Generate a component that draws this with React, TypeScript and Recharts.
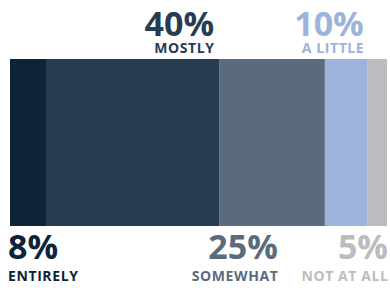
import React from 'react';
import { BarChart, Bar, XAxis, YAxis, LabelList } from 'recharts';

const categories = ['ENTIRELY', 'MOSTLY', 'SOMEWHAT', 'A LITTLE', 'NOT AT ALL'];
const values = [8.4, 40.4, 24.7, 10, 4.5];
const valueLabels = ['8%', '40%', '25%', '10%', '5%'];
const colors = ['#0c2338', '#273c53', '#5b6b7f', '#9db3da', '#bcbcc0'];

const keys = categories.map((_, i) => `s${i}`);
const row: Record<string, number | string> = { name: 'all' };
keys.forEach((k, i) => {
  row[k] = values[i];
});
const data = [row];

const FONT = '"Open Sans", sans-serif';

// placement: top/bottom and horizontal anchoring per segment
const placement = [
  { pos: 'bottom', anchor: 'start', dx: -2 },
  { pos: 'top', anchor: 'end', dx: -5 },
  { pos: 'bottom', anchor: 'end', dx: -47 },
  { pos: 'top', anchor: 'end', dx: -4 },
  { pos: 'bottom', anchor: 'end', dx: 1 },
];

const makeLabel = (i: number) => (props: any) => {
  const x = Number(props.x);
  const y = Number(props.y);
  const w = Number(props.width);
  const h = Number(props.height);
  const p = placement[i];
  const ax = p.anchor === 'start' ? x + p.dx : x + w + p.dx;
  const numY = p.pos === 'top' ? y - 23 : y + h + 33;
  const catY = p.pos === 'top' ? y - 6 : y + h + 55;
  const catX = p.anchor === 'end' ? ax + 0.6 : ax;
  return (
    <g>
      <text x={ax} y={numY} textAnchor={p.anchor} fill={colors[i]} fontFamily={FONT} fontWeight={700} fontSize={34}>
        {valueLabels[i]}
      </text>
      <text x={catX} y={catY} textAnchor={p.anchor} fill={colors[i]} fontFamily={FONT} fontWeight={700} fontSize={14} letterSpacing={0.6}>
        {categories[i]}
      </text>
    </g>
  );
};

export default function App() {
  return (
    <div style={{ position: 'absolute', left: 0, top: 0, width: 390, height: 288 }}>
      <BarChart
        width={390}
        height={288}
        data={data}
        layout="vertical"
        margin={{ top: 59, right: 3, bottom: 62, left: 10 }}
        barCategoryGap={0}
      >
        <XAxis type="number" domain={[0, 88]} hide />
        <YAxis type="category" dataKey="name" hide />
        {keys.map((k, i) => (
          <Bar key={k} dataKey={k} stackId="a" fill={colors[i]} isAnimationActive={false}>
            <LabelList dataKey={k} content={makeLabel(i)} />
          </Bar>
        ))}
      </BarChart>
    </div>
  );
}
